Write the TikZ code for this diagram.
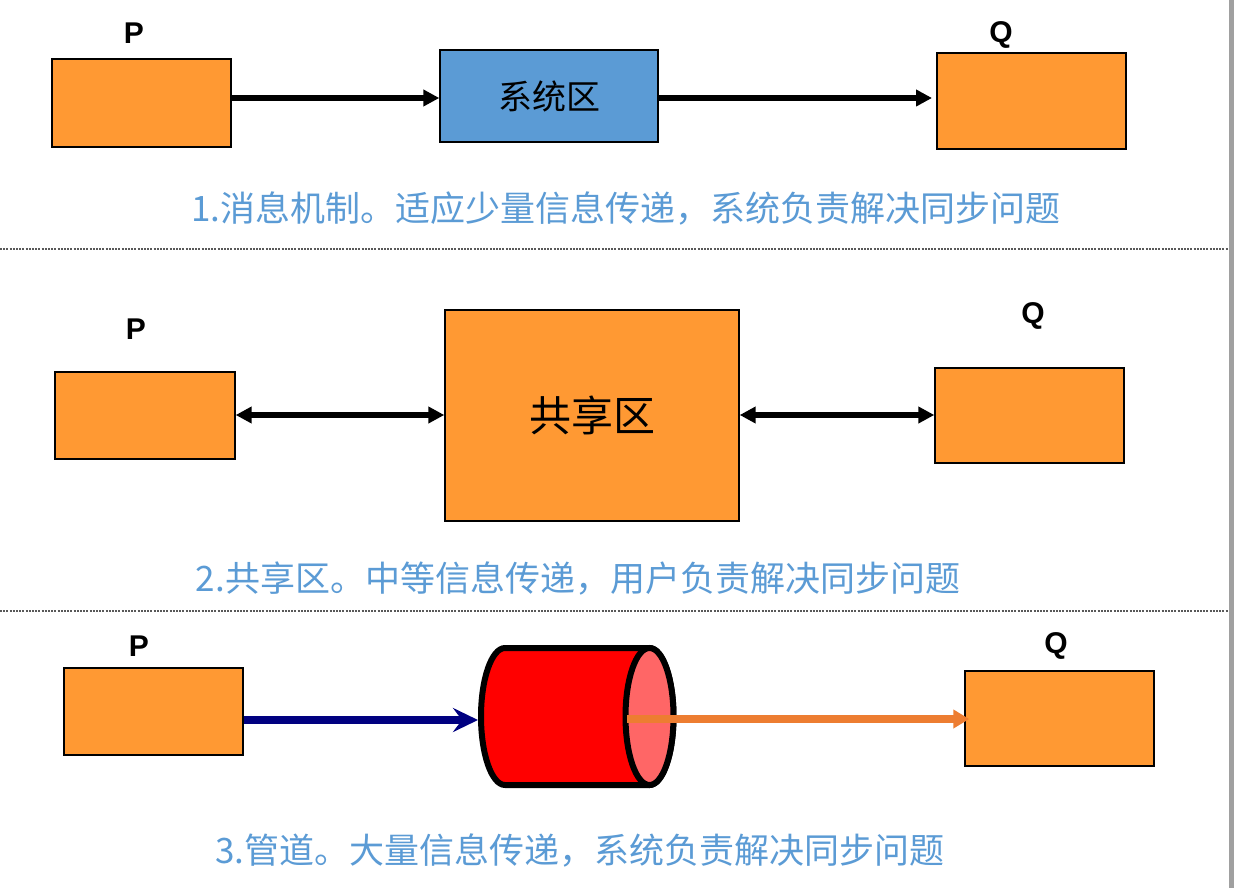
\documentclass[tikz,border=0pt]{standalone}
\usepackage{fontspec}
\newfontfamily\cjk{Noto Sans CJK SC}
\newfontfamily\labfont{Liberation Sans}
\usetikzlibrary{arrows.meta}
\definecolor{boxorange}{HTML}{FF9933}
\definecolor{boxblue}{HTML}{5B9BD5}
\definecolor{captionblue}{HTML}{5B9BD5}
\definecolor{pipered}{HTML}{FF0000}
\definecolor{pipeend}{HTML}{FF6666}
\definecolor{navyarrow}{HTML}{000080}
\definecolor{orangearrow}{HTML}{ED7D31}
\definecolor{sidebar}{HTML}{A0A0A0}
\tikzset{
  box/.style={draw=black, line width=1.4pt, fill=boxorange, inner sep=0pt},
  pq/.style={font=\labfont\bfseries\fontsize{30}{34}\selectfont, inner sep=0pt},
  caption/.style={font=\cjk\fontsize{35}{40}\selectfont, text=captionblue, inner sep=0pt},
  blackarrow/.style={line width=6pt, -{Triangle[length=16pt,width=16pt]}},
  dblarrow/.style={line width=6pt, {Triangle[length=16pt,width=16pt]}-{Triangle[length=16pt,width=16pt]}},
  sep/.style={line width=1.3pt, black!65, dash pattern=on 2pt off 1.2pt},
}
\begin{document}
\begin{tikzpicture}[x=1pt,y=1pt]
\useasboundingbox (0,0) rectangle (1234,-888);
\fill[white] (0,0) rectangle (1234,-888);
\fill[sidebar] (1229,0) rectangle (1234,-888);

% Section 1
\node[box, minimum width=179, minimum height=88] (P1) at (141.5,-103) {};
\node[box, fill=boxblue, minimum width=218, minimum height=92, font=\cjk\fontsize{34}{38}\selectfont] (S1) at (549,-96) {系统区};
\node[box, minimum width=189, minimum height=96] (Q1) at (1031.5,-101) {};
\node[pq] (P1l) at (134,-33) {P};
\node[pq] (Q1l) at (1001,-35) {Q};
\draw[blackarrow] (P1.east |- 0,-98) -- (S1.west |- 0,-98);
\coordinate (Q1in) at (932,-98);
\draw[blackarrow] (S1.east |- 0,-98) -- (Q1in);
\node[caption] (C1) at (626,-208) {1.消息机制。适应少量信息传递，系统负责解决同步问题};

\coordinate (L1a) at (0,-249);
\coordinate (L1b) at (1228,-249);
\draw[sep] (L1a) -- (L1b);

% Section 2
\node[box, minimum width=180, minimum height=87] (P2) at (145,-415.5) {};
\node[box, minimum width=294, minimum height=211, font=\cjk\fontsize{42}{48}\selectfont] (SH) at (592,-415.5) {共享区};
\node[box, minimum width=189, minimum height=95] (Q2) at (1029.5,-415.5) {};
\node[pq] (P2l) at (136,-329) {P};
\node[pq] (Q2l) at (1033,-316) {Q};
\draw[dblarrow] (P2.east |- 0,-415) -- (SH.west |- 0,-415);
\draw[dblarrow] (SH.east |- 0,-415) -- (Q2.west |- 0,-415);
\node[caption] (C2) at (578,-578) {2.共享区。中等信息传递，用户负责解决同步问题};

\coordinate (L2a) at (0,-611);
\coordinate (L2b) at (1228,-611);
\draw[sep] (L2a) -- (L2b);

% Section 3
\node[box, minimum width=179, minimum height=87] (P3) at (153.5,-711.5) {};
\node[box, minimum width=189, minimum height=95] (Q3) at (1059.5,-718.5) {};
\node[pq] (P3l) at (139,-646) {P};
\node[pq] (Q3l) at (1056,-646) {Q};

% pipe (cylinder)
\coordinate (pipeleft) at (478,-720);
\coordinate (pipeface) at (649.5,-716.5);
\coordinate (pipeout) at (627,-719);
\draw[line width=6pt, fill=pipered, line join=round]
  (649.5,-648) -- (505,-648)
  arc[start angle=90, end angle=270, x radius=24, y radius=68.5]
  -- (649.5,-785)
  arc[start angle=-90, end angle=90, x radius=24, y radius=68.5] -- cycle;
\draw[line width=6pt, fill=pipeend] (pipeface) ellipse[x radius=24, y radius=68.5];

\draw[navyarrow, line width=8.5pt, -{Stealth[length=25pt,width=24pt,inset=9pt]}] (P3.east |- 0,-720) -- (pipeleft);
\draw[orangearrow, line width=8.5pt, -{Triangle[length=16pt,width=18pt]}] (pipeout) -- ([xshift=5pt]Q3.west |- 0,-719);
\node[caption] (C3) at (580,-850) {3.管道。大量信息传递，系统负责解决同步问题};
\end{tikzpicture}
\end{document}
